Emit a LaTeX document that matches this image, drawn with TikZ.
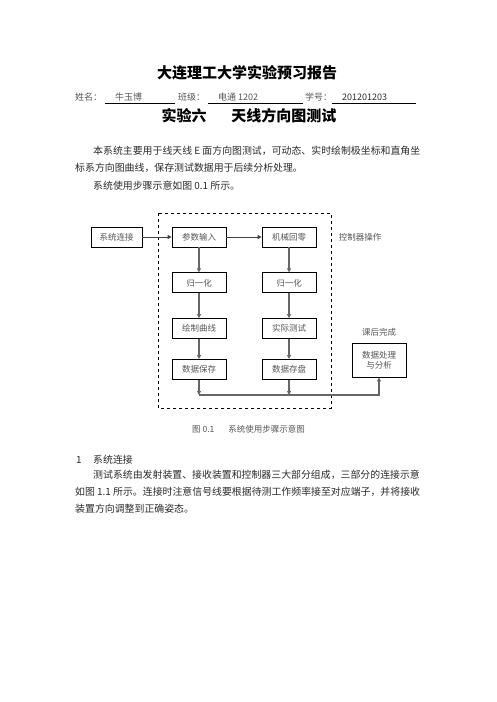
\documentclass[tikz,border=0pt]{standalone}
\usepackage{fontspec}
\setmainfont{Noto Sans CJK SC}
\usepackage{xcolor}
\definecolor{rptgray}{HTML}{555555}
\definecolor{rptink}{HTML}{2A2A2A}
\newcommand\rpttitle{\fontsize{15pt}{18pt}\selectfont\bfseries}
\newcommand\rpthead{\fontsize{9pt}{11pt}\selectfont}
\newcommand\rptbody{\fontsize{9.9pt}{12pt}\selectfont}
\newcommand\rptfig{\fontsize{8.5pt}{10pt}\selectfont}
\usetikzlibrary{arrows.meta,positioning}
\tikzset{
  rptbox/.style={draw,line width=0.8pt,minimum width=54pt,minimum height=20pt,inner sep=2pt,align=center,font=\rptfig,text=rptgray},
  rptflow/.style={-{Triangle[length=4pt,width=4pt]},line width=1.4pt,black!60},
  rpthflow/.style={-{Triangle[length=4pt,width=4pt]},line width=1pt,black!75},
  rpttext/.style={anchor=west,inner sep=0pt,text=rptink},
}

\begin{document}
\begin{tikzpicture}[x=1pt,y=-1pt]
\useasboundingbox (0,0) rectangle (496,702);
% heading
\node[font=\rpttitle,inner sep=0pt] (title) at (247,73) {大连理工大学实验预习报告};
\node[rpttext,font=\rpthead,text=rptgray] (namek) at (75,97) {姓名：};
\node[rpttext,font=\rpthead,text=rptgray] (namev) at (115,97) {牛玉博};
\node[rpttext,font=\rpthead,text=rptgray] (classk) at (178,97) {班级：};
\node[rpttext,font=\rpthead,text=rptgray] (classv) at (218,97) {电通 1202};
\node[rpttext,font=\rpthead,text=rptgray] (idk) at (305,97) {学号：};
\node[rpttext,font=\rpthead] (idv) at (342,97) {201201203};
\draw[line width=0.6pt] (105,103) -- (175,103) (208,103) -- (303,103) (332,103) -- (416,103);
\node[font=\rpttitle,inner sep=0pt] (subtitle) at (249,116) {实验六\hspace{25pt}天线方向图测试};
% intro
\node[rpttext,font=\rptbody] (intro1) at (93,151) {本系统主要用于线天线 E 面方向图测试，可动态、实时绘制极坐标和直角坐};
\node[rpttext,font=\rptbody] (intro2) at (75,168) {标系方向图曲线，保存测试数据用于后续分析处理。};
\node[rpttext,font=\rptbody] (intro3) at (93,186) {系统使用步骤示意如图 0.1 所示。};

% flow chart
\draw[dashed,line width=0.8pt] (158,213) rectangle (331,408);
\node[rptbox,minimum width=51pt] (link) at (116.5,237) {系统连接};
\node[rptbox] (param) at (199,237) {参数输入};
\node[rptbox] (zero) at (289,237) {机械回零};
\node[rptbox,below=25pt of param] (normA) {归一化};
\node[rptbox,below=25pt of zero] (normB) {归一化};
\node[rptbox,below=25pt of normA] (curve) {绘制曲线};
\node[rptbox,below=25pt of normB] (meas) {实际测试};
\node[rptbox,below=20pt of curve] (save) {数据保存};
\node[rptbox,below=20pt of meas] (store) {数据存盘};
\node[rptbox,minimum height=34pt] (proc) at (379,360) {数据处理\\与分析};
\node[font=\rptfig,text=rptgray,inner sep=0pt] (ctl) at (360,237) {控制器操作};
\node[font=\rptfig,text=rptgray,above=3pt of proc] (after) {课后完成};
\coordinate (bus) at (0,395);

\draw[rpthflow] (link) -- (param);
\draw[rpthflow] (param) -- (zero);
\draw[rptflow] (param) -- (normA);
\draw[rptflow] (normA) -- (curve);
\draw[rptflow] (curve) -- (save);
\draw[rptflow] (zero) -- (normB);
\draw[rptflow] (normB) -- (meas);
\draw[rptflow] (meas) -- (store);
\draw[rptflow] (save) -- (save |- bus);
\draw[rptflow] (store) -- (store |- bus);
\draw[rptflow] (save |- bus) -- (proc |- bus) -- (proc);

\node[rpttext,font=\rptfig,text=rptgray] (caption) at (192,429) {图 0.1\hspace{14pt}系统使用步骤示意图};

% section 1
\node[rpttext,font=\rptbody] (secnum) at (76,460) {1};
\node[rpttext,font=\rptbody] (sectitle) at (93,460) {系统连接};
\node[rpttext,font=\rptbody] (sec1) at (93,475) {测试系统由发射装置、接收装置和控制器三大部分组成，三部分的连接示意};
\node[rpttext,font=\rptbody] (sec2) at (75,492) {如图 1.1 所示。连接时注意信号线要根据待测工作频率接至对应端子，并将接收};
\node[rpttext,font=\rptbody] (sec3) at (75,509) {装置方向调整到正确姿态。};
\end{tikzpicture}
\end{document}
